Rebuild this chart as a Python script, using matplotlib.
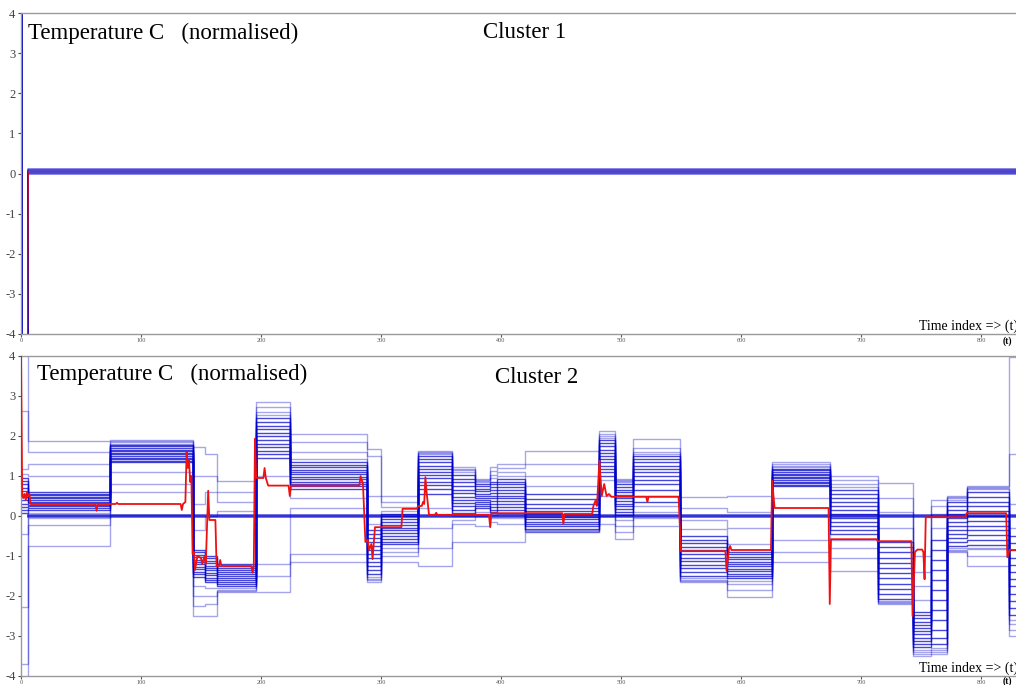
import numpy as np
import matplotlib
matplotlib.use('Agg')
import matplotlib.pyplot as plt

plt.rcParams['font.family'] = ['Liberation Serif', 'DejaVu Serif']
plt.rcParams['axes.unicode_minus'] = False

# shared axis settings
t_max = 829.2
x_ticks = [0, 100, 200, 300, 400, 500, 600, 700, 800]
y_ticks = [-4, -3, -2, -1, 0, 1, 2, 3, 4]

# ---- cluster 1: all series flat just above zero after the start-up samples
c1_edges = [0, 1, 6, 835]
c1_start = [4.5, -4.5]          # t=0 and t=1..5 (off scale)
c1_levels = [0.1, 0.08, 0.06, 0.04, 0.02, 0.0]
c1_mean_t = [0, 5.5, 6, 835]
c1_mean_v = [-4.5, -4.5, 0.05, 0.05]

# ---- cluster 2: step series, one row per time segment (sorted high -> low)
# each row: 4 outer-high values, 12 core values, 4 outer-low values
c2_edges = [0, 6, 74, 143, 153, 163, 196, 224, 288, 300, 331, 359, 378, 391,
            397, 420, 482, 495, 510, 549, 588, 626, 674, 714, 743, 758, 772,
            788, 823, 835]
c2_levels = [
    [4.3, 2.63, 1.18, 1.05, 0.95, 0.87, 0.79, 0.71, 0.63, 0.55, 0.47, 0.39, 0.31, 0.23, 0.15, 0.07, -0.45, -2.28, -3.7, -4.3],  # 0-6
    [1.88, 1.6, 1.3, 1.0, 0.6, 0.56, 0.52, 0.48, 0.44, 0.4, 0.36, 0.32, 0.28, 0.24, 0.2, 0.16, 0.08, -0.05, -0.22, -0.74],       # 6-74
    [1.91, 1.87, 1.84, 1.81, 1.78, 1.74, 1.7, 1.66, 1.62, 1.58, 1.54, 1.5, 1.46, 1.42, 1.38, 1.34, 1.1, 0.8, 0.6, 0.02],        # 74-143
    [1.72, 1.0, 0.3, -0.35, -0.85, -0.91, -0.97, -1.03, -1.09, -1.15, -1.21, -1.27, -1.33, -1.39, -1.46, -1.53, -1.75, -2.0, -2.25, -2.5],
    [1.55, 1.0, 0.6, 0.0, -1.0, -1.06, -1.12, -1.18, -1.24, -1.3, -1.36, -1.42, -1.48, -1.54, -1.6, -1.66, -1.8, -2.0, -2.2, -2.5],
    [0.88, 0.6, 0.35, 0.12, -1.2, -1.25, -1.3, -1.35, -1.4, -1.45, -1.5, -1.55, -1.6, -1.65, -1.7, -1.75, -1.8, -1.84, -1.87, -1.9],
    [2.85, 2.72, 2.6, 2.52, 2.44, 2.35, 2.26, 2.17, 2.08, 1.99, 1.9, 1.81, 1.72, 1.63, 1.54, 1.45, 1.0, -1.2, -1.5, -1.9],      # 196-224
    [2.05, 1.85, 1.6, 1.42, 1.34, 1.28, 1.22, 1.16, 1.1, 1.04, 0.98, 0.92, 0.86, 0.8, 0.74, 0.68, 0.45, 0.2, -0.95, -1.15],
    [1.68, 1.5, 0.5, -0.2, -0.35, -0.45, -0.55, -0.65, -0.75, -0.85, -0.95, -1.05, -1.15, -1.25, -1.35, -1.45, -1.52, -1.57, -1.61, -1.65],
    [0.5, 0.35, 0.22, 0.12, 0.06, -0.01, -0.08, -0.15, -0.22, -0.29, -0.36, -0.43, -0.5, -0.57, -0.64, -0.71, -0.8, -0.9, -1.0, -1.15],
    [1.63, 1.6, 1.57, 1.54, 1.5, 1.42, 1.34, 1.26, 1.18, 1.1, 1.02, 0.94, 0.86, 0.78, 0.68, 0.55, 0.2, -0.3, -0.8, -1.25],      # 331-359
    [1.22, 1.18, 1.14, 1.1, 1.02, 0.93, 0.84, 0.75, 0.66, 0.57, 0.48, 0.4, 0.32, 0.24, 0.16, 0.08, 0.0, -0.1, -0.2, -0.65],
    [0.93, 0.9, 0.87, 0.84, 0.8, 0.74, 0.68, 0.62, 0.56, 0.5, 0.45, 0.4, 0.35, 0.3, 0.25, 0.2, 0.1, 0.0, -0.25, -0.65],
    [1.22, 1.12, 1.02, 0.94, 0.86, 0.79, 0.72, 0.65, 0.58, 0.51, 0.44, 0.37, 0.3, 0.23, 0.16, 0.09, 0.02, -0.05, -0.15, -0.65],
    [1.3, 1.2, 1.1, 1.0, 0.93, 0.86, 0.79, 0.72, 0.65, 0.58, 0.51, 0.44, 0.37, 0.3, 0.22, 0.14, 0.06, -0.05, -0.2, -0.65],
    [1.63, 1.3, 1.0, 0.75, 0.55, 0.42, 0.3, 0.2, 0.12, 0.05, -0.02, -0.08, -0.14, -0.2, -0.26, -0.32, -0.35, -0.37, -0.39, -0.41],  # 420-482
    [2.13, 2.05, 2.0, 1.96, 1.9, 1.82, 1.74, 1.66, 1.58, 1.5, 1.42, 1.34, 1.26, 1.18, 1.1, 1.0, 0.9, 0.5, 0.0, -0.2],
    [0.93, 0.9, 0.87, 0.84, 0.8, 0.73, 0.66, 0.59, 0.52, 0.45, 0.38, 0.31, 0.24, 0.17, 0.1, 0.03, -0.1, -0.25, -0.4, -0.58],
    [1.93, 1.7, 1.6, 1.55, 1.5, 1.42, 1.34, 1.26, 1.18, 1.1, 1.0, 0.9, 0.8, 0.65, 0.5, 0.35, 0.25, 0.1, -0.05, -0.25],
    [0.48, 0.2, -0.1, -0.33, -0.5, -0.59, -0.68, -0.77, -0.86, -0.95, -1.04, -1.13, -1.22, -1.31, -1.4, -1.49, -1.55, -1.59, -1.62, -1.65],
    [0.5, 0.1, -0.3, -0.7, -0.9, -0.96, -1.02, -1.08, -1.14, -1.2, -1.26, -1.32, -1.38, -1.44, -1.5, -1.56, -1.62, -1.7, -1.85, -2.03],
    [1.35, 1.3, 1.26, 1.22, 1.18, 1.14, 1.1, 1.06, 1.02, 0.98, 0.94, 0.9, 0.86, 0.82, 0.78, 0.74, 0.45, -0.6, -0.9, -1.15],    # 626-674
    [1.0, 0.9, 0.8, 0.72, 0.64, 0.54, 0.44, 0.34, 0.24, 0.14, 0.04, -0.06, -0.16, -0.26, -0.36, -0.46, -0.6, -0.8, -1.05, -1.37],
    [0.83, 0.45, 0.1, -0.3, -0.65, -0.78, -0.91, -1.04, -1.17, -1.3, -1.43, -1.56, -1.69, -1.82, -1.95, -2.08, -2.12, -2.15, -2.18, -2.2],
    [-1.0, -1.4, -1.75, -2.1, -2.4, -2.48, -2.56, -2.64, -2.72, -2.8, -2.88, -2.96, -3.04, -3.12, -3.2, -3.28, -3.34, -3.4, -3.45, -3.5],
    [0.4, 0.25, 0.05, -0.3, -0.6, -0.85, -1.1, -1.35, -1.6, -1.85, -2.1, -2.35, -2.6, -2.85, -3.05, -3.2, -3.3, -3.36, -3.41, -3.45],
    [0.5, 0.47, 0.44, 0.41, 0.35, 0.25, 0.15, 0.05, -0.05, -0.15, -0.25, -0.35, -0.45, -0.55, -0.65, -0.75, -0.8, -0.84, -0.87, -0.9],
    [0.75, 0.72, 0.7, 0.68, 0.6, 0.48, 0.36, 0.24, 0.12, 0.0, -0.12, -0.24, -0.36, -0.48, -0.6, -0.72, -0.8, -0.83, -1.0, -1.25],
    [3.97, 1.55, 0.3, -0.3, -0.5, -0.68, -0.86, -1.04, -1.22, -1.4, -1.58, -1.76, -1.94, -2.12, -2.3, -2.48, -2.6, -2.7, -2.85, -3.0],  # 823-
]
c2_flat = [0.03, 0.0, -0.03]     # series that stay at zero from t=6

# cluster 2 mean (red)
c2_mean_t = [0, 1, 2, 3, 4, 5, 6, 7, 8, 62, 63, 64, 79, 80, 81, 133, 134, 135,
             137, 138, 139, 140, 141, 142, 143, 144, 145, 147, 150, 151, 153,
             154, 156, 157, 162, 163, 165, 166, 167, 192, 193, 194, 195, 196,
             202, 203, 204, 206, 223, 224, 225, 282, 283, 285, 287, 289, 290,
             292, 293, 295, 317, 318, 330, 331, 334, 335, 336, 337, 338, 340,
             345, 346, 347, 390, 391, 392, 451, 452, 453, 476, 477, 479, 480,
             482, 484, 486, 488, 490, 492, 521, 522, 523, 548, 550, 587, 588,
             590, 591, 592, 625, 626, 628, 673, 674, 675, 713, 714, 742, 743,
             745, 747, 751, 752, 753, 754, 787, 788, 821, 822, 824, 826, 835]
c2_mean_v = [4.2, 0.5, 0.45, 0.55, 0.4, 0.6, 0.5, 0.55, 0.3, 0.3, 0.13, 0.3,
             0.3, 0.33, 0.3, 0.3, 0.15, 0.3, 0.35, 1.6, 1.2, 1.4, 0.85, 1.0,
             -0.95, -0.9, -1.35, -1.0, -1.05, -1.2, -1.0, -1.2, 0.63, -0.1,
             -0.1, -1.25, -1.25, -1.1, -1.25, -1.25, -1.42, -1.25, 1.93, 0.95,
             0.95, 1.2, 0.95, 0.76, 0.76, 0.5, 0.76, 0.76, 1.0, 0.8, -0.65,
             -0.6, -0.85, -0.7, -1.08, -0.28, -0.28, 0.18, 0.18, 0.25, 0.25,
             0.35, 0.3, 0.97, 0.6, 0.03, 0.03, 0.08, 0.03, 0.03, -0.28, 0.07,
             0.07, -0.2, 0.05, 0.05, 0.25, 0.4, 0.25, 1.38, 0.5, 0.8, 0.5,
             0.55, 0.48, 0.48, 0.35, 0.48, 0.48, -0.88, -0.88, -1.37, -0.82,
             -0.75, -0.85, -0.85, 0.88, 0.2, 0.2, -2.2, -0.58, -0.58, -0.63,
             -0.63, -2.5, -0.9, -0.84, -0.84, -0.9, -1.58, -0.03, -0.03, 0.07,
             0.07, -1.03, -0.84, -0.85, -0.85]

blue = '#0000cc'
red = '#ee1111'
grey = '#9a9a9a'
outer_alpha, core_alpha = 0.35, 0.72


def draw_steps(ax, edges, seg_values, alphas, **kw):
    vals = np.asarray(seg_values, dtype=float)
    xs = np.asarray(edges, dtype=float)
    for j in range(vals.shape[1]):
        ys = np.append(vals[:, j], vals[-1, j])
        ax.plot(xs, ys, drawstyle='steps-post', alpha=alphas[j], **kw)


def style_axes(ax, t_y):
    ax.set_xlim(0, t_max)
    ax.set_ylim(-4, 4)
    ax.set_xticks(x_ticks)
    ax.set_yticks(y_ticks)
    for s in ['top', 'left', 'bottom']:
        ax.spines[s].set_color(grey)
        ax.spines[s].set_linewidth(1.0)
    ax.spines['right'].set_visible(False)
    ax.tick_params(axis='y', labelsize=9, length=2, pad=2, colors='#444444')
    ax.tick_params(axis='x', labelsize=4.5, length=2, pad=1, colors='#555555')
    ax.text(0.9025, 0.014, 'Time index => (t)', transform=ax.transAxes,
            fontsize=10, va='baseline', ha='left')
    ax.text(0.9865, t_y, '(t)', transform=ax.transAxes, fontsize=7,
            fontweight='bold', va='top', ha='left')


fig = plt.figure(figsize=(10.16, 6.85), dpi=100)
ax1 = fig.add_axes([21 / 1016, 351 / 685, 995 / 1016, 321 / 685])
ax2 = fig.add_axes([21 / 1016, 9 / 685, 995 / 1016, 320 / 685])

# cluster 1
c1_rows = [[c1_start[0]] * len(c1_levels), [c1_start[1]] * len(c1_levels), c1_levels]
draw_steps(ax1, c1_edges, c1_rows, [0.55] * len(c1_levels), color=blue, lw=1.2)
ax1.plot(c1_mean_t, c1_mean_v, color=red, lw=0.8, zorder=5)
style_axes(ax1, -0.008)
ax1.text(0.007, 0.919, 'Temperature C   (normalised)', transform=ax1.transAxes,
         fontsize=16.5, va='baseline')
ax1.text(0.464, 0.922, 'Cluster 1', transform=ax1.transAxes,
         fontsize=16.5, va='baseline')

# cluster 2
c2_alpha = [outer_alpha] * 4 + [core_alpha] * 12 + [outer_alpha] * 4
draw_steps(ax2, c2_edges, c2_levels, c2_alpha, color=blue, lw=1.0)
for lvl in c2_flat:
    ax2.plot([6, 835], [lvl, lvl], color=blue, lw=1.2, alpha=0.65)
ax2.plot(c2_mean_t, c2_mean_v, color=red, lw=1.3, zorder=5)
style_axes(ax2, -0.001)
ax2.text(0.016, 0.925, 'Temperature C   (normalised)', transform=ax2.transAxes,
         fontsize=16.5, va='baseline')
ax2.text(0.476, 0.916, 'Cluster 2', transform=ax2.transAxes,
         fontsize=16.5, va='baseline')

fig.savefig('out.png', dpi=100)
